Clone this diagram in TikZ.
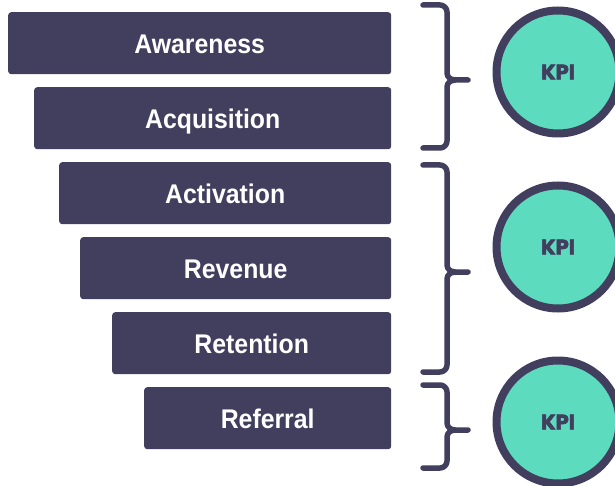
\documentclass[tikz,border=0pt]{standalone}
\usepackage{fontspec}
\newfontfamily\barfont[FakeStretch=0.92]{Liberation Sans}
\newfontfamily\kpifont[BoldFeatures={FakeBold=3}]{Poppins}
\definecolor{funneldark}{HTML}{413E5E}
\definecolor{kpiteal}{HTML}{5DDBBF}
\begin{document}
\begin{tikzpicture}[x=1pt,y=-1pt,
  stage/.style={fill=funneldark, rounded corners=3pt, anchor=north west,
    minimum height=62pt, text=white, font=\barfont\bfseries\fontsize{27}{30}\selectfont,
    inner sep=0pt, text height=20pt, text depth=0pt},
  kpi/.style={circle, draw=funneldark, fill=kpiteal, line width=8pt, minimum size=123pt,
    inner sep=0pt, text=funneldark, font=\kpifont\bfseries\fontsize{21}{24}\selectfont},
  brace/.style={draw=funneldark, line width=5.5pt, line cap=round, line join=round}]
\useasboundingbox (0,0) rectangle (615,486);

% funnel stages
\node[stage, minimum width=383pt] (aw) at (8,12) {Awareness};
\node[stage, minimum width=357pt] (ac) at (34,87) {Acquisition};
\node[stage, minimum width=332pt] (act) at (59,162) {Activation};
\node[stage, minimum width=311pt] (rev) at (80,237) {Revenue};
\node[stage, minimum width=279pt] (ret) at (112,312) {Retention};
\node[stage, minimum width=247pt] (ref) at (144,387) {Referral};

% KPI circles
\node[kpi] (k1) at (558,72) {KPI};
\node[kpi] (k2) at (558,247) {KPI};
\node[kpi] (k3) at (558,422) {KPI};

% curly braces grouping the stages
\draw[brace] (423,5) -- (440,5) to[out=0,in=90] (447,12) -- (447,73)
  to[out=-90,in=180] (455,80) -- (468,80);
\draw[brace] (455,80) to[out=180,in=90] (447,87) -- (447,141)
  to[out=-90,in=0] (440,148) -- (423,148);

\draw[brace] (423,165) -- (440,165) to[out=0,in=90] (447,172) -- (447,265)
  to[out=-90,in=180] (455,272) -- (468,272);
\draw[brace] (455,272) to[out=180,in=90] (447,279) -- (447,365)
  to[out=-90,in=0] (440,372) -- (423,372);

\draw[brace] (423,385) -- (440,385) to[out=0,in=90] (447,392) -- (447,423)
  to[out=-90,in=180] (455,430) -- (468,430);
\draw[brace] (455,430) to[out=180,in=90] (447,437) -- (447,461)
  to[out=-90,in=0] (440,468) -- (423,468);
\end{tikzpicture}
\end{document}
